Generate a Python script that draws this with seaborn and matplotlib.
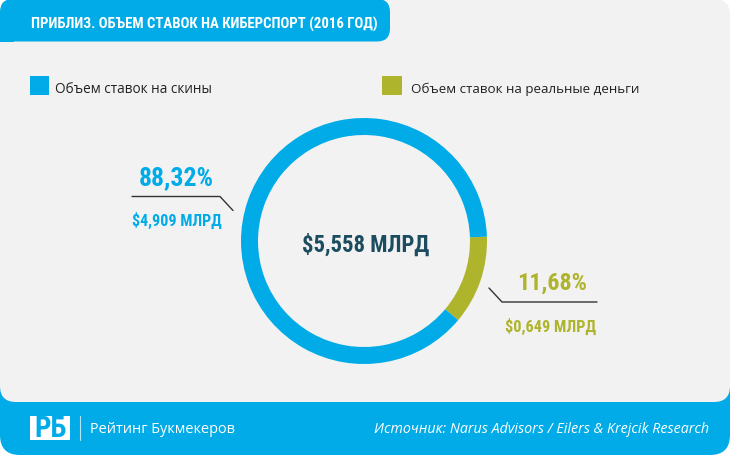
import matplotlib
matplotlib.use("Agg")
import matplotlib.pyplot as plt
import seaborn as sns
from matplotlib.patches import FancyBboxPatch, Rectangle

# data
segments = ["Объем ставок на реальные деньги", "Объем ставок на скины"]
shares = [11.68, 88.32]
amounts = ["$0,649 МЛРД", "$4,909 МЛРД"]
share_labels = ["11,68%", "88,32%"]
total_label = "$5,558 МЛРД"
title = "ПРИБЛИЗ. ОБЪЕМ СТАВОК НА КИБЕРСПОРТ (2016 ГОД)"
brand = "Рейтинг Букмекеров"
source = "Источник: Narus Advisors / Eilers & Krejcik Research"

BLUE = "#00abe7"
GREEN = "#aeb42b"
GREY = "#f2f2f2"
DARK = "#1c4c60"

sns.set_style("white")
plt.rcParams["font.family"] = ["Open Sans", "DejaVu Sans"]

fig = plt.figure(figsize=(7.3, 4.56), dpi=100)
fig.patch.set_facecolor("white")
bg = fig.add_axes([0, 0, 1, 1])
bg.set_xlim(0, 730)
bg.set_ylim(456, 0)
bg.axis("off")
renderer = fig.canvas.get_renderer()


def fit_text(x, y, s, width, ha="center", **kw):
    # size the text so that it spans the given pixel width
    t = bg.text(x, y, s, fontsize=10, ha=ha, va="baseline", zorder=5, **kw)
    w = t.get_window_extent(renderer).width
    t.set_fontsize(10 * width / w)
    return t


def rbox(x, y, w, h, r, color, z):
    bg.add_patch(FancyBboxPatch((x, y), w, h, boxstyle=f"round,pad=0,rounding_size={r}",
                                fc=color, ec="none", zorder=z))


cond = dict(fontweight="bold", fontstretch="condensed",
            family=["Roboto Condensed", "Liberation Sans Narrow", "Roboto", "DejaVu Sans"])

rbox(0, 370, 730, 86, 20, BLUE, 1)
rbox(0, 0, 730, 403, 16, GREY, 2)
rbox(0, 0, 390, 42.5, 13, BLUE, 3)
bg.add_patch(Rectangle((0, 20), 14, 22.5, fc=BLUE, ec="none", zorder=3))

fit_text(204.5, 29, title, 348, color="white", **cond)

# legend
bg.add_patch(Rectangle((30, 77), 19, 19, fc=BLUE, ec="none", zorder=4))
fit_text(55, 93, segments[1], 157, ha="left", color="#222222")
bg.add_patch(Rectangle((382, 77), 20, 19, fc=GREEN, ec="none", zorder=4))
fit_text(411, 93, segments[0], 228, ha="left", color="#222222")

# donut
cx, cy, R = 364, 242, 123
pie_ax = fig.add_axes([(cx - R) / 730, (456 - cy - R) / 456, 2 * R / 730, 2 * R / 456])
pie_ax.pie(shares, colors=[GREEN, BLUE], startangle=2, counterclock=False,
           wedgeprops=dict(width=17 / R, edgecolor="none"))
pie_ax.set_xlim(-1, 1)
pie_ax.set_ylim(-1, 1)
pie_ax.axis("off")

fit_text(365.5, 252, total_label, 127, color=DARK, **cond)

# left annotation
fit_text(176, 185, share_labels[1], 75, color=BLUE, **cond)
fit_text(176.5, 225.5, amounts[1], 90, color=BLUE, **cond)
bg.plot([132, 220, 233], [197.5, 197.5, 211.5], color="#333333", lw=1, zorder=4)

# right annotation
fit_text(552, 290, share_labels[0], 70, color=GREEN, **cond)
fit_text(551, 331.5, amounts[0], 91, color=GREEN, **cond)
bg.plot([489, 502, 597], [289, 303, 303], color="#333333", lw=1, zorder=4)

# footer
bg.add_patch(Rectangle((30, 417), 40, 24, fc="white", ec="none", zorder=4))
fit_text(50, 437, "РБ", 32, color=BLUE, **cond)
bg.plot([80, 80], [417, 441], color="white", lw=0.8, alpha=0.7, zorder=4)
fit_text(90, 433, brand, 145, ha="left", color="white")
fit_text(709, 433, source, 335, ha="right", color="white", style="italic")

fig.savefig("out.png", dpi=100, facecolor=fig.get_facecolor())
